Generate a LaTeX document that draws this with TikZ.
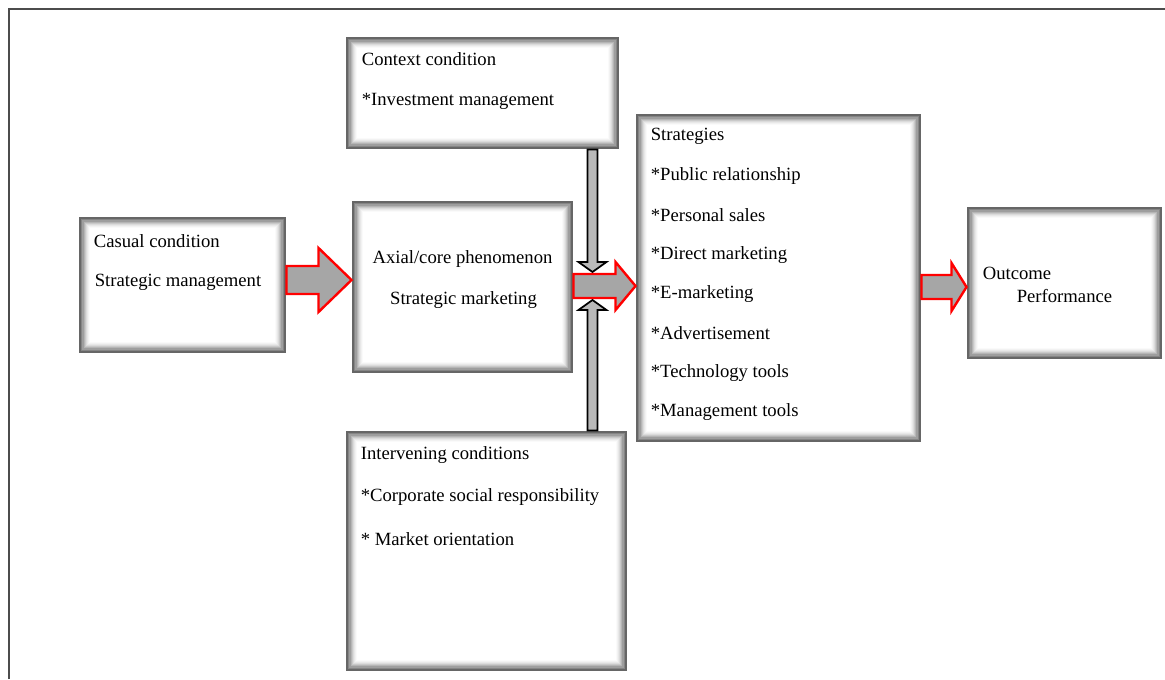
\documentclass[tikz,border=0pt]{standalone}
\usepackage{fontspec}
\setmainfont{Liberation Serif}
\usetikzlibrary{calc}

\begin{document}
\begin{tikzpicture}[x=0.75pt, y=-0.75pt, font=\fontsize{14}{16}\selectfont]
	\def\px{0.75pt}
	\tikzset{
		panel/.style={draw=gray!80!black, line width=2.2pt, fill=white, inner sep=0pt,
			path picture={
				\foreach \k/\c in {1/48,2/38,3/29,4/21,5/14,6/9,7/5,8/2}
					\draw[black!\c, line width=0.9pt] ([shift={(0.7pt+\k*0.8pt,-0.7pt-\k*0.8pt)}]path picture bounding box.north west) rectangle ([shift={(-0.7pt-\k*0.8pt,0.7pt+\k*0.8pt)}]path picture bounding box.south east);
			}
		},
		lbl/.style={inner sep=0pt, text=black},
		flow/.style={draw=red, line width=1.8pt, line join=miter, top color=gray!70, middle color=gray!30, bottom color=gray!70},
		feed/.style={draw=black, line width=1.3pt, line join=miter, fill=gray!55},
		frame/.style={draw=gray!60!black, line width=2pt},
	}
	% from, to, shaft half, head half, head length, shift (px)
	\def\flowarrow#1#2#3#4#5#6{
		\draw[flow] let \p1=($(#1.east)+(0,#6)$), \p2=(#2.west) in
			(\x1,\y1+#3*\px) -- (\x2-#5*\px,\y1+#3*\px) -- (\x2-#5*\px,\y1+#4*\px) -- (\x2,\y1)
			-- (\x2-#5*\px,\y1-#4*\px) -- (\x2-#5*\px,\y1-#3*\px) -- (\x1,\y1-#3*\px) -- cycle;
	}

	\useasboundingbox (0,0) rectangle (1165,679);
	\draw[frame] (9,679) |- (1165,9);

	% boxes
	\node[panel, minimum width=271*\px, minimum height=110*\px] (context) at (482.5,93) {};
	\node[panel, minimum width=205*\px, minimum height=134*\px] (casual) at (182.5,285) {};
	\node[panel, minimum width=219*\px, minimum height=170*\px] (axial) at (462.5,287) {};
	\node[panel, minimum width=283*\px, minimum height=326*\px] (strategies) at (778.5,278) {};
	\node[panel, minimum width=193*\px, minimum height=150*\px] (outcome) at (1064.5,283) {};
	\node[panel, minimum width=279*\px, minimum height=238*\px] (intervening) at (486.5,551) {};

	% texts
	\node[lbl, anchor=west] (context1) at ($(context.north west)+(16,23)$) {Context condition};
	\node[lbl, anchor=west] (context2) at ($(context.north west)+(16,65)$) {*Investment management};

	\node[lbl, anchor=west] (casual1) at ($(casual.north west)+(15,25)$) {Casual condition};
	\node[lbl, anchor=west] (casual2) at ($(casual.north west)+(16,66)$) {Strategic management};

	\node[lbl] (axial1) at ($(axial.north)+(0,58)$) {Axial/core phenomenon};
	\node[lbl] (axial2) at ($(axial.north)+(1,99)$) {Strategic marketing};

	\foreach \item [count=\i] in {Strategies, *Public relationship, *Personal sales, *Direct marketing, *E-marketing, *Advertisement, *Technology tools, *Management tools}
		\node[lbl, anchor=west] (strat\i) at ($(strategies.north west)+(15,{23+39.4*(\i-1)})$) {\item};

	\node[lbl, anchor=west] (outcome1) at ($(outcome.north west)+(16,67)$) {Outcome};
	\node[lbl, anchor=west] (outcome2) at ($(outcome.north west)+(50,89)$) {Performance};

	\node[lbl, anchor=west] (interv1) at ($(intervening.north west)+(15,24)$) {Intervening conditions};
	\node[lbl, anchor=west] (interv2) at ($(intervening.north west)+(15,66)$) {*Corporate social responsibility};
	\node[lbl, anchor=west] (interv3) at ($(intervening.north west)+(15,109)$) {* Market orientation};

	% arrows
	\coordinate (hub) at ($(axial.east)+(19,0)$);
	\draw[feed] let \p1=(context.south -| hub), \p2=($(hub)+(0,-15)$) in
		(\x1-5*\px,\y1) -- (\x1-5*\px,\y2+10*\px) -- (\x1-14*\px,\y2+10*\px) -- (\x1,\y2)
		-- (\x1+14*\px,\y2+10*\px) -- (\x1+5*\px,\y2+10*\px) -- (\x1+5*\px,\y1) -- cycle;
	\draw[feed] let \p1=(intervening.north -| hub), \p2=($(hub)+(0,13)$) in
		(\x1-5*\px,\y1) -- (\x1-5*\px,\y2-10*\px) -- (\x1-14*\px,\y2-10*\px) -- (\x1,\y2)
		-- (\x1+14*\px,\y2-10*\px) -- (\x1+5*\px,\y2-10*\px) -- (\x1+5*\px,\y1) -- cycle;

	\flowarrow{casual}{axial}{14}{32}{33}{-5}
	\flowarrow{axial}{strategies}{12}{24}{20}{-1}
	\flowarrow{strategies}{outcome}{12}{24}{15}{9}
\end{tikzpicture}
\end{document}
